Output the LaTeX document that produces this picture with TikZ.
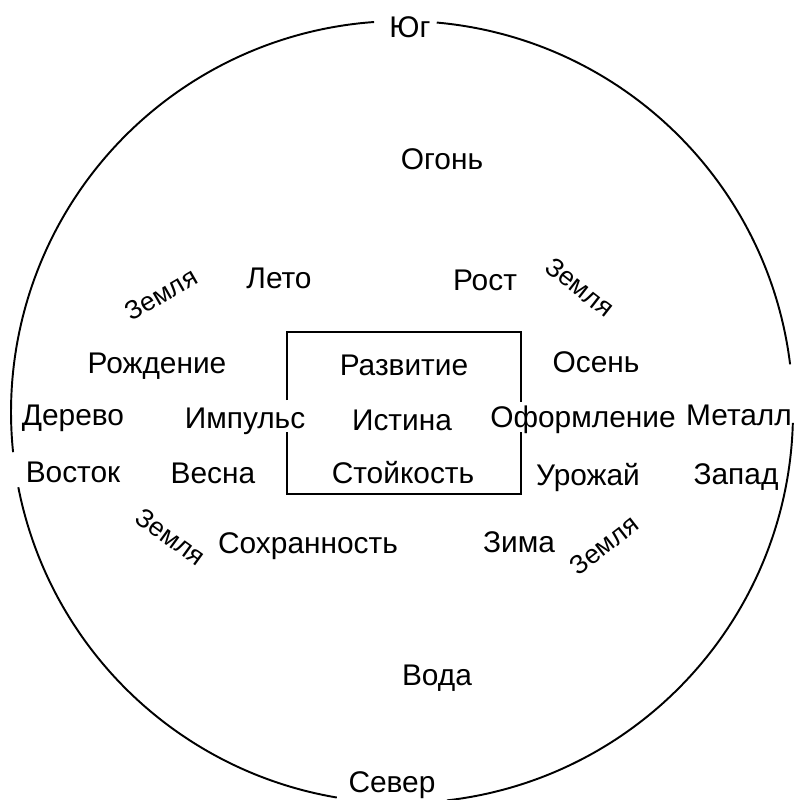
\documentclass[tikz,border=0pt]{standalone}
\usepackage{fontspec}
\setmainfont{Liberation Sans}
\usepackage{tikz}

\begin{document}
\begin{tikzpicture}[
        x=0.02cm, y=-0.02cm,
        lbl/.style={font=\fontsize{17}{19}\selectfont, inner sep=0pt, anchor=base},
        earth/.style={font=\fontsize{15}{17}\selectfont, inner sep=0pt},
        rim/.style={line width=1.1pt, black}
    ]
        \useasboundingbox (0,0) rectangle (797,800);
        \coordinate (ctr) at (402,412);

        % outer circle, broken at the four quarters
        \foreach \a/\b in {-7/-84.9, -94.1/-185.9, -191.1/-260.4, -276.6/-358.4}
            \draw[rim] (ctr) ++(\a:391) arc[start angle=\a, end angle=\b, radius=391];

        % centre square, open where the middle row runs through
        \draw[rim] (287,400) -- (287,332) -- (521,332) -- (521,402);
        \draw[rim] (287,432) -- (287,494) -- (521,494) -- (521,432);

        \node (south) [lbl] at (410,38) {Юг};
        \node (fire) [lbl] at (442,170) {Огонь};

        \node (summer) [lbl] at (279,288) {Лето};
        \node (growth) [lbl] at (485,290) {Рост};
        \node (earthNW) [earth, rotate=30] at (161,294) {Земля};
        \node (earthNE) [earth, rotate=-38] at (580,287) {Земля};

        \node (birth) [lbl] at (157,373) {Рождение};
        \node (devel) [lbl] at (404,375) {Развитие};
        \node (autumn) [lbl] at (596,372) {Осень};

        \node (wood) [lbl] at (73,425) {Дерево};
        \node (impulse) [lbl] at (245,428) {Импульс};
        \node (truth) [lbl] at (402,430) {Истина};
        \node (forming) [lbl] at (583,427) {Оформление};
        \node (metal) [lbl] at (739,425) {Металл};

        \node (east) [lbl] at (73,482) {Восток};
        \node (spring) [lbl] at (213,483) {Весна};
        \node (firmness) [lbl] at (403,483) {Стойкость};
        \node (harvest) [lbl] at (588,485) {Урожай};
        \node (west) [lbl] at (736,484) {Запад};

        \node (earthSW) [earth, rotate=-36] at (171,537) {Земля};
        \node (keeping) [lbl] at (308,553) {Сохранность};
        \node (winter) [lbl] at (519,552) {Зима};
        \node (earthSE) [earth, rotate=38] at (604,545) {Земля};

        \node (water) [lbl] at (437,685) {Вода};
        \node (north) [lbl] at (392,792) {Север};
    \end{tikzpicture}
\end{document}
